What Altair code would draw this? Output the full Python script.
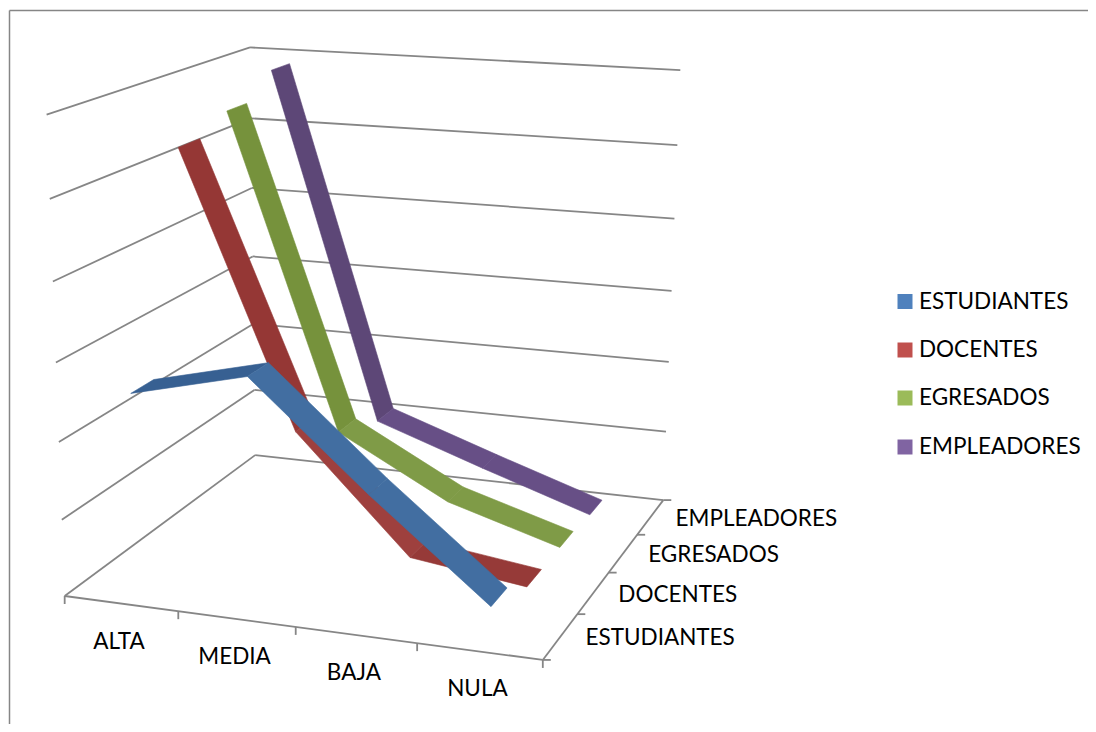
import altair as alt
import numpy as np
import pandas as pd

CATEGORIES = ["ALTA", "MEDIA", "BAJA", "NULA"]
SERIES = ["ESTUDIANTES", "DOCENTES", "EGRESADOS", "EMPLEADORES"]
ESTUDIANTES = [2.57, 2.93, 1.62, 0.4]
DOCENTES = [5.33, 1.8, 0.3, 0.1]
EGRESADOS = [5.55, 1.35, 0.55, 0.1]
EMPLEADORES = [5.87, 1.07, 0.55, 0.05]
VALUES = [ESTUDIANTES, DOCENTES, EGRESADOS, EMPLEADORES]

LEGEND_COLORS = ["#4F81BD", "#C0504D", "#9BBB59", "#8064A2"]
SHADES = [
    ["#376092", "#426EA1", "#426EA1"],
    ["#953735", "#9E403E", "#963A38"],
    ["#76923C", "#7F9B47", "#7F9B47"],
    ["#5D4777", "#674F86", "#674F86"],
]
RIBBON_HALF = 0.215
W, H = 1080, 716
FONT = "Lato"
GREY = "#868686"

# camera calibration: box corner (category, depth, value) -> page pixel
CAL = [
    ((0, 0, 0), (65, 596)), ((4, 0, 0), (543, 660)), ((4, 4, 0), (663, 500)),
    ((0, 4, 0), (255, 455)), ((0, 4, 6), (250, 47)), ((4, 4, 6), (680, 70)),
    ((0, 0, 6), (47, 115)), ((0, 0, 3), (55, 362)), ((0, 4, 3), (253, 257)),
    ((4, 4, 3), (672, 291)),
]
A, b = [], []
for (u, d, v), (px, py) in CAL:
    A.append([u, d, v, 1, 0, 0, 0, 0, -px * u, -px * d, -px * v]); b.append(px)
    A.append([0, 0, 0, 0, u, d, v, 1, -py * u, -py * d, -py * v]); b.append(py)
P = np.append(np.linalg.lstsq(np.array(A, float), np.array(b, float), rcond=None)[0], 1.0).reshape(3, 4)


def project(u, d, v):
    q = P @ np.array([u, d, v, 1.0])
    # page pixel -> chart pixel (8px page margin)
    return float(q[0] / q[2] - 8), float(q[1] / q[2] - 8)


# box lines
segs = []
def add(a, b_):
    x, y = project(*a)
    x2, y2 = project(*b_)
    segs.append(dict(x=x, y=y, x2=x2, y2=y2))

for k in range(7):
    add((0, 0, k), (0, 4, k))
    add((0, 4, k), (4, 4, k))
add((0, 0, 0), (4, 0, 0))
add((4, 0, 0), (4, 4, 0))

ticks = []
for i in range(5):
    x, y = project(i, 0, 0)
    ticks.append(dict(x=x, y=y, x2=x, y2=y + 8))
for j in range(5):
    x, y = project(4, j, 0)
    ticks.append(dict(x=x, y=y, x2=x + 8, y2=y))
frame = [dict(x=1.5, y=2.5, x2=1.5, y2=H), dict(x=1.5, y=2.5, x2=W, y2=2.5)]

# ribbons, back to front
features = []
for s in range(3, -1, -1):
    for i in range(3):
        d0, d1 = s + 0.5 - RIBBON_HALF, s + 0.5 + RIBBON_HALF
        a, c = VALUES[s][i], VALUES[s][i + 1]
        ring = [project(i + .5, d0, a), project(i + 1.5, d0, c), project(i + 1.5, d1, c),
                project(i + .5, d1, a), project(i + .5, d0, a)]
        features.append(dict(type="Feature", properties=dict(fill=SHADES[s][i], ord=len(features)),
                             geometry=dict(type="Polygon", coordinates=[[list(p) for p in ring]])))

SX = alt.Scale(domain=[0, W], range=[0, W])
SY = alt.Scale(domain=[0, H], range=[0, H])
X = alt.X("x:Q", scale=SX, axis=None)
Y = alt.Y("y:Q", scale=SY, axis=None)

lines = alt.Chart(pd.DataFrame(segs)).mark_rule(color=GREY, strokeWidth=1.8).encode(x=X, y=Y, x2="x2:Q", y2="y2:Q")
tick_marks = alt.Chart(pd.DataFrame(ticks)).mark_rule(color=GREY, strokeWidth=1.8).encode(x=X, y=Y, x2="x2:Q", y2="y2:Q")
frame_marks = alt.Chart(pd.DataFrame(frame)).mark_rule(color=GREY, strokeWidth=1.5).encode(x=X, y=Y, x2="x2:Q", y2="y2:Q")

ribbons = alt.Chart(alt.Data(values=features)).mark_geoshape(strokeWidth=0.6).encode(
    fill=alt.Fill("properties.fill:N", scale=None),
    stroke=alt.Stroke("properties.fill:N", scale=None),
    order=alt.Order("properties.ord:Q"),
).project(type="identity", scale=1, translate=[0, 0])

cat_rows = []
for i, name in enumerate(CATEGORIES):
    x, y = project(i + .5, 0, 0)
    cat_rows.append(dict(label=name, x=x - 2, y=y + 38))
cat_text = alt.Chart(pd.DataFrame(cat_rows)).mark_text(font=FONT, fontSize=22.5, color="#000000", align="center", baseline="middle").encode(x=X, y=Y, text="label:N")

ser_rows = []
for j, name in enumerate(SERIES):
    x, y = project(4, j + .5, 0)
    ser_rows.append(dict(label=name, x=x + 25, y=y + 2))
ser_text = alt.Chart(pd.DataFrame(ser_rows)).mark_text(font=FONT, fontSize=22.5, color="#000000", align="left", baseline="middle").encode(x=X, y=Y, text="label:N")

leg = pd.DataFrame(dict(label=SERIES, color=LEGEND_COLORS,
                        x=[897] * 4, y=[293.5, 342, 390, 439]))
leg_sq = alt.Chart(leg).mark_square(size=225, opacity=1, filled=True).encode(x=X, y=Y, color=alt.Color("color:N", scale=None))
leg_text = alt.Chart(leg).mark_text(font=FONT, fontSize=22.5, color="#000000", align="left", baseline="middle", dx=14).encode(x=X, y=Y, text="label:N")

chart = alt.layer(frame_marks, lines, tick_marks, ribbons, cat_text, ser_text, leg_sq, leg_text).properties(
    width=W, height=H, padding=0, autosize=alt.AutoSizeParams(type="none")
).configure_view(stroke=None)
chart.save("out.html", embed_options={"renderer": "svg", "actions": False})
